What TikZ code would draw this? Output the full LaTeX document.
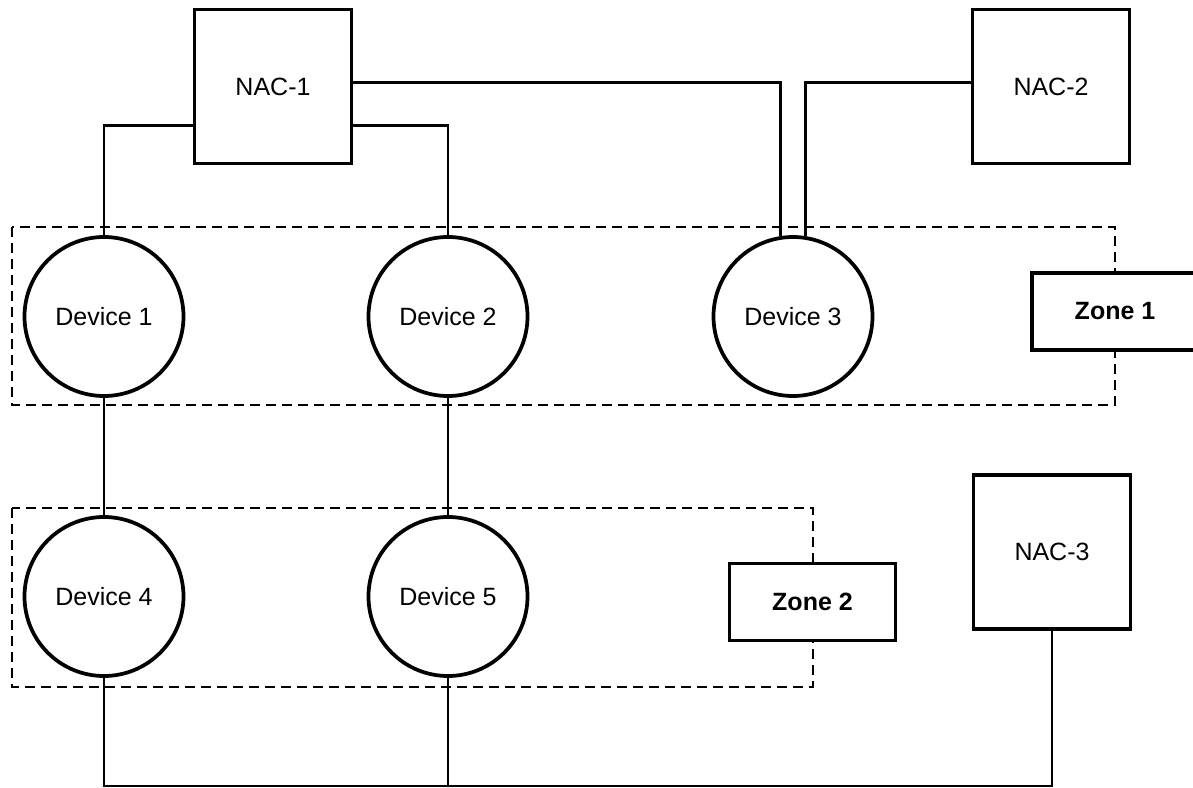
\documentclass[tikz,border=0pt]{standalone}
\usepackage{fontspec}
\setmainfont{Liberation Sans}
\begin{document}
\begin{tikzpicture}[x=0.75pt, y=-0.75pt,
    font=\fontsize{18.75}{22}\selectfont,
    nac/.style={draw, line width=2.8pt, fill=white, minimum width=117.75pt, minimum height=115.5pt, inner sep=0pt},
    device/.style={draw, circle, line width=2.8pt, fill=white, minimum size=119.25pt, inner sep=0pt},
    zonebox/.style={draw, dashed, line width=1.4pt, dash pattern=on 7.5pt off 4.5pt},
    zonelabel/.style={draw, line width=2.8pt, fill=white, minimum width=124.5pt, minimum height=57.75pt, inner sep=0pt, font=\fontsize{18.75}{22}\selectfont\bfseries},
    wire/.style={line width=2pt}]
    \useasboundingbox (0,0) rectangle (1193,788);

    % Zones
    \draw[zonebox] (12,227) rectangle (1115,405);
    \draw[zonebox] (12,508) rectangle (813,687);
    \node[zonelabel] (zone1) at (1115,311.5) {Zone 1};
    \node[zonelabel] (zone2) at (812.5,602) {Zone 2};

    % Controllers
    \node[nac] (nac1) at (273,86.5) {NAC-1};
    \node[nac] (nac2) at (1051,86.5) {NAC-2};
    \node[nac] (nac3) at (1052,552) {NAC-3};

    % Devices
    \node[device] (d1) at (104,316.5) {Device 1};
    \node[device] (d2) at (448,316.5) {Device 2};
    \node[device] (d3) at (793,316.5) {Device 3};
    \node[device] (d4) at (104,596.5) {Device 4};
    \node[device] (d5) at (448,596.5) {Device 5};

    % Wiring
    \coordinate (bus) at (0,786);
    \draw[wire] (nac1.206) -| (d1.north);
    \draw[wire] (nac1.-26) -| (d2.north);
    \draw[wire] (nac1.3) -| (d3.99);
    \draw[wire] (nac2.177) -| (d3.81);
    \draw[wire] (d1) -- (d4);
    \draw[wire] (d2) -- (d5);
    \draw[wire] (d4.south) -- (d4.south |- bus) -| (nac3.south);
    \draw[wire] (d5.south) -- (d5.south |- bus);
\end{tikzpicture}
\end{document}
